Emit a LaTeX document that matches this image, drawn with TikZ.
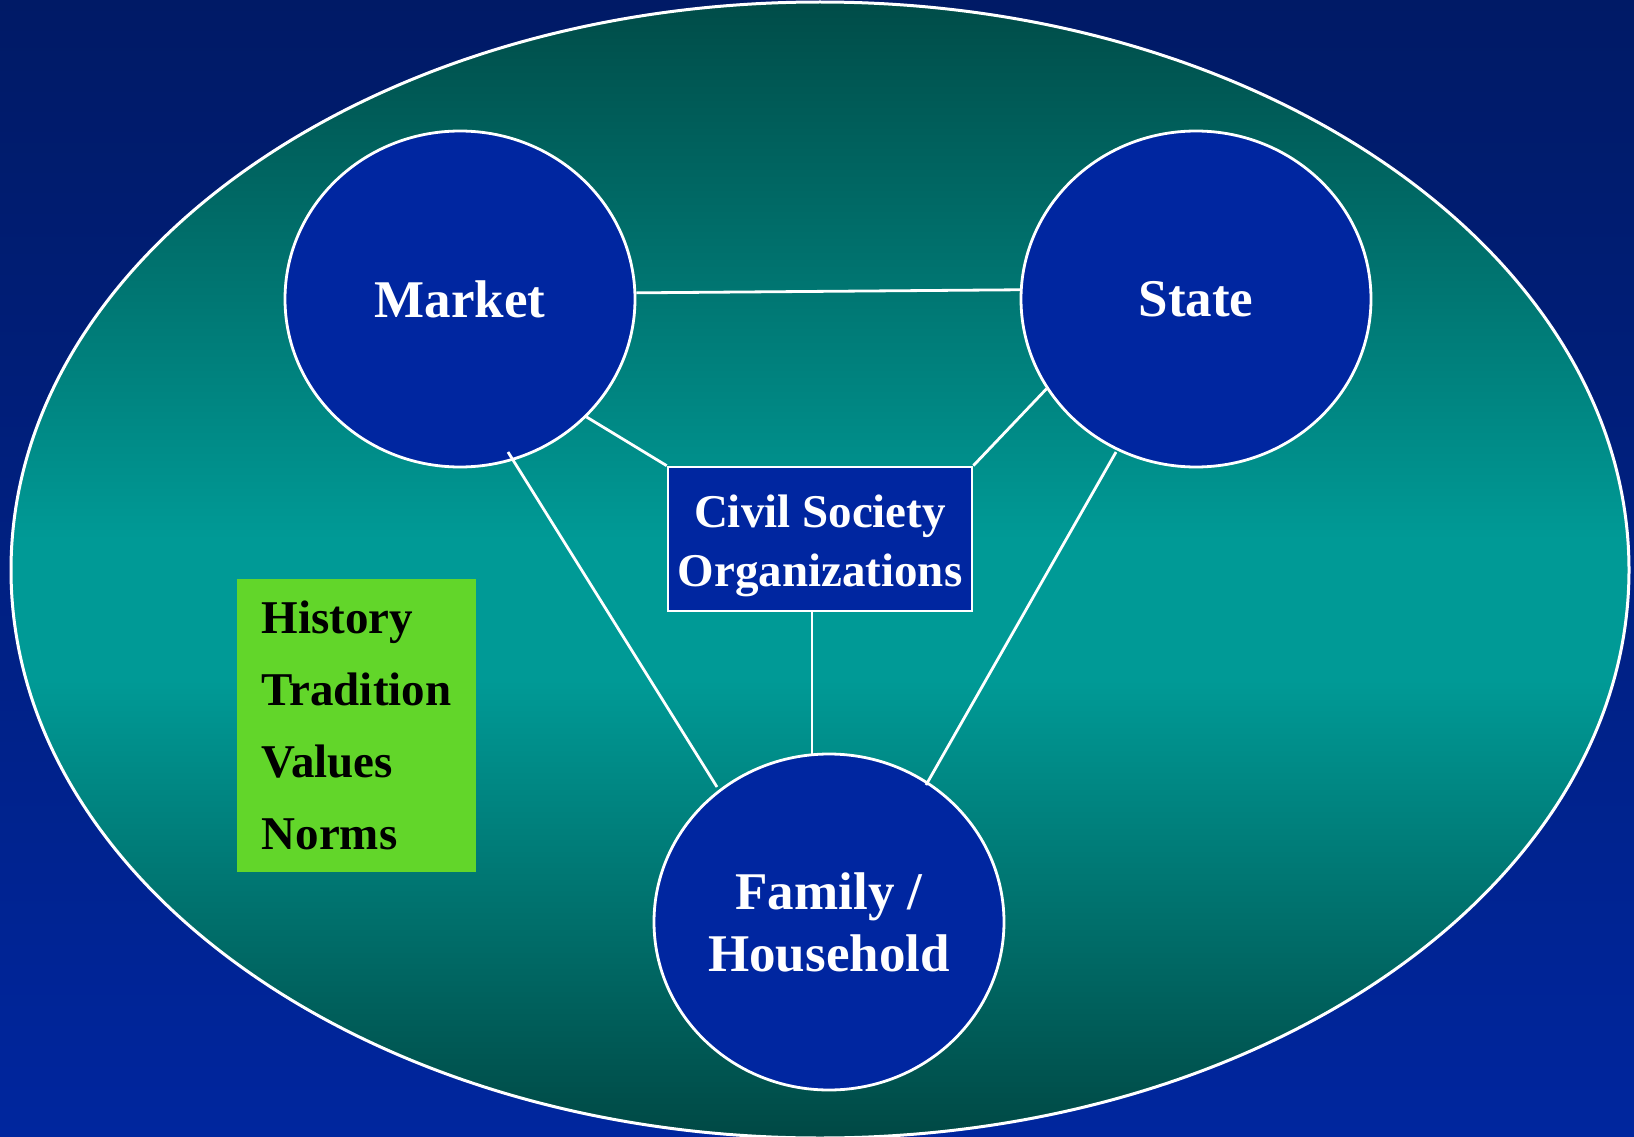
\documentclass[tikz,border=0pt]{standalone}
\usepackage{fontspec}
\setmainfont{Liberation Serif}
\usetikzlibrary{shapes.geometric}
\definecolor{bgtop}{RGB}{0,26,102}
\definecolor{bgbot}{RGB}{0,38,158}
\definecolor{eltop}{RGB}{0,76,72}
\definecolor{elmid}{RGB}{0,154,150}
\definecolor{elbot}{RGB}{0,72,68}
\definecolor{nodeblue}{RGB}{0,38,160}
\definecolor{boxgreen}{RGB}{98,214,42}
\tikzset{
  sector/.style={ellipse, draw=white, line width=2.8pt, fill=nodeblue, minimum width=350pt, minimum height=336pt, inner sep=0pt, text=white, font=\bfseries\fontsize{53}{62}\selectfont, align=center},
  link/.style={draw=white, line width=2.8pt},
  csobox/.style={rectangle, draw=white, line width=2.6pt, fill=nodeblue, minimum width=304pt, minimum height=144pt, inner sep=0pt},
  csotext/.style={text=white, font=\bfseries\fontsize{47}{59}\selectfont, align=center, yshift=-7pt, inner sep=0pt},
  valbox/.style={rectangle, fill=boxgreen, minimum width=239pt, minimum height=293pt, inner sep=0pt, text=black, font=\bfseries\fontsize{47}{72}\selectfont, align=left}
}
\begin{document}
\begin{tikzpicture}[x=1pt,y=-1pt]
\useasboundingbox (0,0) rectangle (1634,1137);
\shade[top color=bgtop, bottom color=bgbot] (0,0) rectangle (1634,1137);
\begin{scope}
  \clip (820,570) ellipse [x radius=809, y radius=568];
  \shade[top color=eltop, bottom color=elmid] (0,0) rectangle (1634,540);
  \fill[elmid] (0,539) rectangle (1634,681);
  \shade[top color=elmid, bottom color=elbot] (0,680) rectangle (1634,1140);
\end{scope}
\draw[white, line width=3pt] (820,570) ellipse [x radius=809, y radius=568];

\node[sector] (market) at (460,299) {Market};
\node[sector] (state) at (1196,299) {State};
\node[sector] (family) at (829,922) {Family /\\Household};
\node[csobox, label={[csotext]center:Civil Society\\Organizations}] (cso) at (820,539) {};
\node[valbox] (values) at (356.5,725.5) {History\\Tradition\\Values\\Norms};

\coordinate (mfA) at (508,452);
\coordinate (mfB) at (717,787);
\coordinate (sfA) at (1116,452);
\coordinate (sfB) at (926,785);
\coordinate (csA) at (812,611);
\coordinate (csB) at (812,755);

\draw[link] (market.2.4) -- (state.177.6);
\draw[link] (market.-43) -- (cso.north west);
\draw[link] (state.211.6) -- (cso.north east);
\draw[link] (mfA) -- (mfB);
\draw[link] (sfA) -- (sfB);
\draw[link] (csA) -- (csB);
\end{tikzpicture}
\end{document}
